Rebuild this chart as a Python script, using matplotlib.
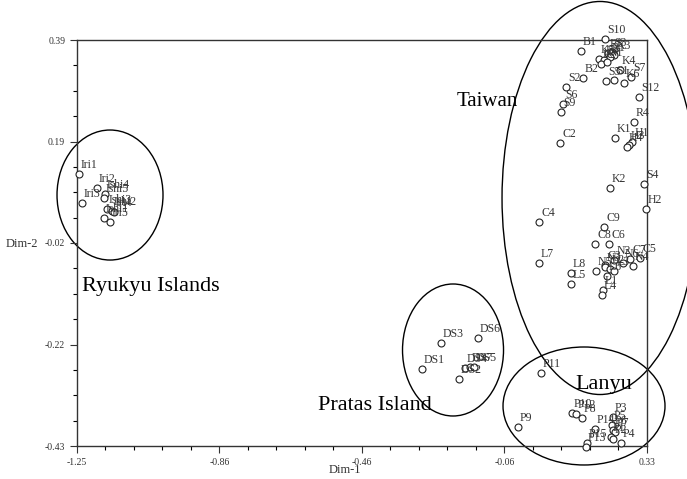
import matplotlib
matplotlib.use("Agg")
import matplotlib.pyplot as plt
import numpy as np
from matplotlib.patches import Ellipse
from matplotlib.ticker import AutoMinorLocator

plt.rcParams['font.family'] = ['Liberation Serif', 'DejaVu Serif']

# ---- data ----
ryukyu_names = ["Iri1", "Iri2", "Iri3", "Ishi4", "Ishi5", "Ishi3", "Ishi2", "Iri4", "Ishi1", "Iri5"]
ryukyu_x = [-1.2445, -1.1946, -1.2361, -1.1724, -1.1752, -1.1668, -1.1530, -1.1474, -1.1752, -1.1585]
ryukyu_y = [0.1194, 0.0911, 0.0608, 0.0790, 0.0709, 0.0487, 0.0446, 0.0426, 0.0305, 0.0224]

taiwan_names = ["S10", "B1", "R3", "S3", "K3", "R1", "K5", "B4", "R2", "N1", "B2", "S2",
                "K4", "S5", "S1", "S7", "K6", "S12", "S6", "S9", "R4", "C2", "K1", "H1",
                "H3", "H4", "K2", "S4", "H2", "C4", "C9", "C8", "C6", "L7", "N2", "C7",
                "C5", "C3", "N6", "N4", "N5", "N3", "L2", "L3", "L6", "L8", "L5", "L1", "L4"]
taiwan_x = [0.2136, 0.1471, 0.2219, 0.2330, 0.2386, 0.2275, 0.1970, 0.2108, 0.2025, 0.2191,
            0.1526, 0.1055, 0.2552, 0.2164, 0.2386, 0.2857, 0.2663, 0.3079, 0.0972, 0.0916,
            0.2940, 0.0889, 0.2413, 0.2885, 0.2801, 0.2746, 0.2275, 0.3217, 0.3272, 0.0306,
            0.2108, 0.1859, 0.2247, 0.0306, 0.2386, 0.2829, 0.3107, 0.2136, 0.2635, 0.2912,
            0.1887, 0.2136, 0.2275, 0.2386, 0.2191, 0.1194, 0.1194, 0.2080, 0.2053]
taiwan_y = [0.3920, 0.3678, 0.3637, 0.3658, 0.3597, 0.3557, 0.3516, 0.3496, 0.3415, 0.3456,
            0.3132, 0.2951, 0.3294, 0.3072, 0.3092, 0.3153, 0.3032, 0.2749, 0.2607, 0.2446,
            0.2244, 0.1820, 0.1921, 0.1840, 0.1779, 0.1739, 0.0911, 0.0992, 0.0487, 0.0224,
            0.0123, -0.0220, -0.0220, -0.0604, -0.0543, -0.0523, -0.0503, -0.0644, -0.0604, -0.0666,
            -0.0767, -0.0686, -0.0727, -0.0767, -0.0868, -0.0807, -0.1029, -0.1150, -0.1251]

pratas_names = ["DS3", "DS6", "DS1", "DS4", "DS7", "DS5", "DS2"]
pratas_x = [-0.2410, -0.1384, -0.2937, -0.1745, -0.1606, -0.1495, -0.1911]
pratas_y = [-0.2220, -0.2119, -0.2745, -0.2725, -0.2704, -0.2704, -0.2947]

lanyu_names = ["P11", "P9", "P10", "P12", "P8", "P3", "P14", "P5", "P6", "P7", "P1", "P2", "P4", "P15", "P13"]
lanyu_x = [0.0362, -0.0276, 0.1221, 0.1332, 0.1498, 0.2358, 0.1859, 0.2330, 0.2358, 0.2413,
           0.2302, 0.2358, 0.2580, 0.1637, 0.1609]
lanyu_y = [-0.2826, -0.3916, -0.3634, -0.3654, -0.3735, -0.3714, -0.3957, -0.3876, -0.3977, -0.4017,
           -0.4118, -0.4159, -0.4240, -0.4240, -0.4320]

xtick_labels = ["-1.25", "-0.86", "-0.46", "-0.06", "0.33"]
ytick_labels = ["-0.43", "-0.22", "-0.02", "0.19", "0.39"]

W, H = 687, 479
fig = plt.figure(figsize=(W / 100, H / 100), dpi=100)
ax = fig.add_axes([77 / W, 1 - 446 / H, 570 / W, 406 / H])
ax.set_xlim(-1.25, 0.33)
ax.set_ylim(-0.43, 0.39)

for names, xs, ys in [(ryukyu_names, ryukyu_x, ryukyu_y),
                      (taiwan_names, taiwan_x, taiwan_y),
                      (pratas_names, pratas_x, pratas_y),
                      (lanyu_names, lanyu_x, lanyu_y)]:
    ax.plot(xs, ys, linestyle='none', marker='o', markersize=5, markerfacecolor='white',
            markeredgecolor='#222222', markeredgewidth=0.8, clip_on=False, zorder=3)
    for n, x, y in zip(names, xs, ys):
        ax.annotate(n, (x, y), xytext=(1.5, 2), textcoords='offset points', fontsize=8.5,
                    color='#333333', ha='left', va='bottom', annotation_clip=False)

# group ellipses
ell_specs = [((0.1998, 0.0709), 0.5433, 0.7938),
             ((-1.1585, 0.0769), 0.2938, 0.2626),
             ((-0.2077, -0.2361), 0.2800, 0.2666),
             ((0.1554, -0.3492), 0.4490, 0.2383)]
for c, w, h in ell_specs:
    ax.add_patch(Ellipse(c, w, h, fill=False, edgecolor='black', linewidth=1.0, clip_on=False))

fig.text(457 / W, 1 - 102 / H, "Taiwan", fontsize=15, va='center', ha='left')
fig.text(82 / W, 1 - 287 / H, "Ryukyu Islands", fontsize=16, va='center', ha='left')
fig.text(318 / W, 1 - 405 / H, "Pratas Island", fontsize=16, va='center', ha='left')
fig.text(575 / W, 1 - 385 / H, "Lanyu", fontsize=16, va='center', ha='left')

ax.set_xticks(np.linspace(-1.25, 0.33, 5))
ax.set_xticklabels(xtick_labels)
ax.set_yticks(np.linspace(-0.43, 0.39, 5))
ax.set_yticklabels(ytick_labels)
ax.xaxis.set_minor_locator(AutoMinorLocator(5))
ax.yaxis.set_minor_locator(AutoMinorLocator(4))
ax.tick_params(which='major', direction='out', length=5, width=0.8, labelsize=7, color='#333333',
               labelcolor='#333333')
ax.tick_params(which='minor', direction='out', length=3, width=0.8)
for s in ax.spines.values():
    s.set_linewidth(1.0)
    s.set_color('#333333')

fig.text(345 / W, 1 - 470 / H, "Dim-1", fontsize=9, ha='center', va='center', color='#333333')
fig.text(22 / W, 1 - 244 / H, "Dim-2", fontsize=9, ha='center', va='center', color='#333333')

fig.savefig("out.png", dpi=100)
